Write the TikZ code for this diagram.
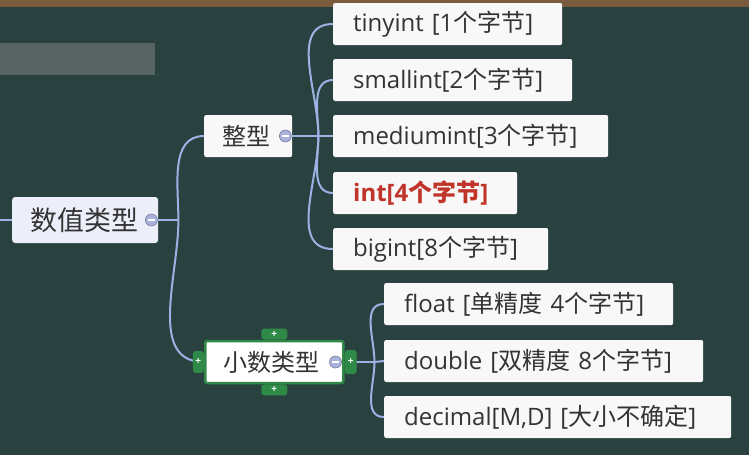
\documentclass[tikz,border=0pt]{standalone}
\usepackage{fontspec}
\setmainfont{Open Sans}
\newfontfamily\cjkfont{Noto Sans CJK SC}
\usepackage{tikz}
\usetikzlibrary{positioning,calc,backgrounds}
\definecolor{boardBg}{HTML}{29423F}
\definecolor{frameBrown}{HTML}{7A5B3E}
\definecolor{boxFill}{HTML}{F8F8F8}
\definecolor{rootFill}{HTML}{ECEEF9}
\definecolor{linkBlue}{HTML}{9DB1E4}
\definecolor{textGray}{HTML}{333333}
\definecolor{intRed}{HTML}{C0342A}
\definecolor{selGreen}{HTML}{2E8A46}
\definecolor{foldFill}{HTML}{A9B2DC}
\tikzset{
  topic/.style={fill=boxFill, rounded corners=2pt, text=textGray, anchor=west, minimum height=42pt, inner xsep=20pt, inner ysep=0pt, align=left, text width=#1, font=\fontsize{24}{26}\selectfont},
  branch/.style={fill=boxFill, rounded corners=2pt, text=textGray, anchor=west, minimum height=42pt, inner xsep=18pt, inner ysep=0pt, font=\fontsize{24}{26}\selectfont\cjkfont},
  rootbox/.style={fill=rootFill, rounded corners=3pt, text=textGray, anchor=west, minimum height=46pt, inner xsep=18pt, inner ysep=0pt, font=\fontsize{27}{29}\selectfont\cjkfont},
  link/.style={draw=linkBlue, line width=2pt},
  foldmark/.style={circle, fill=foldFill, draw=foldFill!70!black, line width=0.6pt, minimum size=12pt, inner sep=0pt,
    path picture={\draw[white, line width=2pt] ($(path picture bounding box.west)+(2.5pt,0)$) -- ($(path picture bounding box.east)+(-2.5pt,0)$);}},
  tab/.style={fill=selGreen, rounded corners=3pt, inner sep=0pt, text=white, font=\fontsize{10}{10}\selectfont\bfseries},
}

\begin{document}
\begin{tikzpicture}[x=1pt, y=-1pt]
\useasboundingbox (0,0) rectangle (749,455);
% root
\node[rootbox] (sz) at (12,220) {数值类型\kern2pt};
\node[foldmark] (szfold) at ($(sz.east)+(-7,0)$) {};
% branches
\node[branch] (zx) at (204,136) {整型\kern4pt};
\node[foldmark] (zxfold) at ($(zx.east)+(-7,0)$) {};
\node[branch, fill=white, draw=selGreen, line width=2.5pt] (xs) at (204,362) {小数类型\kern6pt};
\node[foldmark] (xsfold) at ($(xs.east)+(-9,0)$) {};
\node[tab, minimum width=26pt, minimum height=11pt, anchor=south] (xstop) at (xs.north) {+};
\node[tab, minimum width=26pt, minimum height=11pt, anchor=north] (xsbot) at (xs.south) {+};
\node[tab, minimum width=11pt, minimum height=22pt, anchor=east] (xsleft) at (xs.west) {+};
\node[tab, minimum width=12pt, minimum height=24pt, anchor=west] (xsright) at (xs.east) {+};
% integer types
\node[topic=189pt] (tiny) at (333,24) {tinyint [1{\cjkfont 个字节}]};
\node[topic=199pt] (small) at (333,80) {smallint[2{\cjkfont 个字节}]};
\node[topic=235pt] (medium) at (333,136) {mediumint[3{\cjkfont 个字节}]};
\node[topic=144pt, text=intRed, font=\fontsize{24}{26}\selectfont\bfseries] (intn) at (333,193) {int[4{\cjkfont\bfseries 个字节}]};
\node[topic=175pt] (big) at (333,249) {bigint[8{\cjkfont 个字节}]};
% decimal types
\node[topic=249pt] (flt) at (384,304) {float [{\cjkfont 单精度} 4{\cjkfont 个字节}]};
\node[topic=279pt] (dbl) at (384,361) {double [{\cjkfont 双精度} 8{\cjkfont 个字节}]};
\node[topic=307pt] (dec) at (384,417) {decimal[M,D] [{\cjkfont 大小不确定}]};
% links
\coordinate (lft) at (0,220);
\coordinate (szb) at ($(sz.east)+(20,0)$);
\coordinate (zxb) at ($(zx.east)+(26,0)$);
\coordinate (xsb) at ($(xs.east)+(30,0)$);
\begin{scope}[on background layer]
\fill[boardBg] (0,0) rectangle (749,455);
\fill[frameBrown] (0,0) rectangle (749,7);
\fill[gray!55!boardBg] (0,43) rectangle (155,75);
\draw[link] (lft) -- (sz.west);
\draw[link] (sz.east) -- (szb);
\draw[link] (szb) to[out=90,in=180] (zx.west);
\draw[link] (szb) to[out=-90,in=180] (xs.west);
\draw[link] (zx.east) -- (zxb);
\draw[link] (zxb) to[out=90,in=180] (tiny.west);
\draw[link] (zxb) to[out=90,in=180] (small.west);
\draw[link] (zxb) -- (medium.west);
\draw[link] (zxb) to[out=-90,in=180] (intn.west);
\draw[link] (zxb) to[out=-90,in=180] (big.west);
\draw[link] (xs.east) -- (xsb);
\draw[link] (xsb) to[out=90,in=180] (flt.west);
\draw[link] (xsb) -- (dbl.west);
\draw[link] (xsb) to[out=-90,in=180] (dec.west);
\end{scope}
\end{tikzpicture}
\end{document}
